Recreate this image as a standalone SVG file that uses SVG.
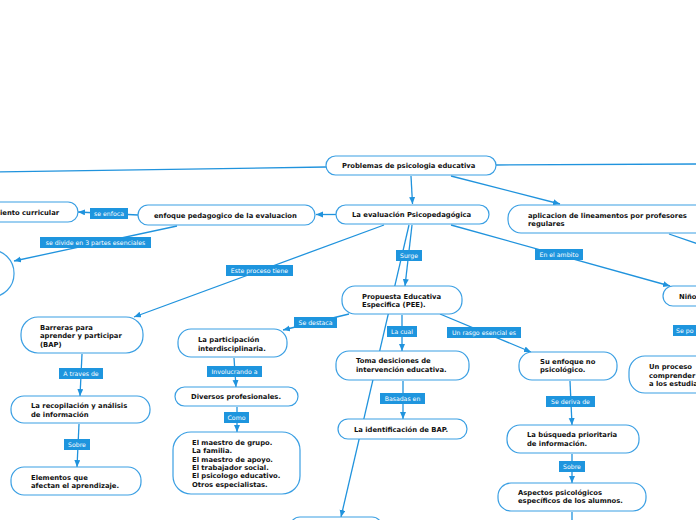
<svg xmlns="http://www.w3.org/2000/svg" width="696" height="520" viewBox="0 0 696 520">
<defs>
<marker id="ah" markerUnits="userSpaceOnUse" markerWidth="8" markerHeight="7" refX="7" refY="3" orient="auto"><path d="M0,0 L7,3 L0,6 z" fill="#2093dd"/></marker>
<style>
.n rect{fill:#fff;stroke:#3a9fe3;stroke-width:1.2}
.t{font-family:"DejaVu Sans",Verdana,sans-serif;font-weight:bold;font-size:6.8px;fill:#111}
.l rect{fill:#1e95de}
.lt{font-family:"DejaVu Sans",Verdana,sans-serif;font-size:6.2px;fill:#fff;text-anchor:middle}
#connectors path{stroke:#2093dd;stroke-width:1.3;fill:none}
#connectors path.a{marker-end:url(#ah)}
</style>
</defs>
<rect width="696" height="520" fill="#fff"/>
<g id="connectors">
<path d="M326,167 L-2,172"/>
<path d="M496,165 L698,164"/>
<path class="a" d="M411,176 L412.5,204"/>
<path class="a" d="M451,176 L560,204"/>
<path class="a" d="M336,214.5 L316,214.5"/>
<path class="a" d="M138,215 L78,212"/>
<path class="a" d="M177,226 L14,261"/>
<path class="a" d="M384,225 L134,317"/>
<path class="a" d="M412,225 L405,286"/>
<path class="a" d="M409,225 L341,517"/>
<path class="a" d="M451,225 L670,286"/>
<path d="M669,234 L698,244"/>
<path class="a" d="M349,314 L283,330"/>
<path class="a" d="M402,315 L402,351"/>
<path class="a" d="M440,314 L531,352"/>
<path class="a" d="M82,354 L80,396"/>
<path class="a" d="M79,424 L77,467"/>
<path class="a" d="M234,358 L236,387"/>
<path class="a" d="M237,407 L237,432"/>
<path class="a" d="M403,381 L403,419"/>
<path class="a" d="M570,381 L572,425"/>
<path class="a" d="M572,454 L572,483"/>
<path d="M572,512 L572,522"/>
</g>
<g id="labels">
<g class="l"><rect x="90" y="208" width="38" height="11"/><text class="lt" x="109" y="216">se enfoca</text></g>
<g class="l"><rect x="40" y="237" width="111" height="11"/><text class="lt" x="95.5" y="245">se divide en 3 partes esenciales</text></g>
<g class="l"><rect x="226" y="265" width="67" height="11"/><text class="lt" x="259.5" y="273">Este proceso tiene</text></g>
<g class="l"><rect x="396" y="250" width="26" height="11"/><text class="lt" x="409" y="258">Surge</text></g>
<g class="l"><rect x="535" y="249" width="48" height="11"/><text class="lt" x="559" y="257">En el ambito</text></g>
<g class="l"><rect x="294" y="317" width="43" height="11"/><text class="lt" x="315.5" y="325">Se destaca</text></g>
<g class="l"><rect x="387" y="326" width="30" height="11"/><text class="lt" x="402" y="334">La cual</text></g>
<g class="l"><rect x="447" y="327" width="74" height="11"/><text class="lt" x="484" y="335">Un rasgo esencial es</text></g>
<g class="l"><rect x="673" y="325" width="40" height="11"/><text class="lt" x="676" y="333" style="text-anchor:start">Se po</text></g>
<g class="l"><rect x="59" y="368" width="44" height="11"/><text class="lt" x="81" y="376">A traves de</text></g>
<g class="l"><rect x="64" y="439" width="26" height="11"/><text class="lt" x="77" y="447">Sobre</text></g>
<g class="l"><rect x="207" y="366" width="55" height="11"/><text class="lt" x="234.5" y="374">Involucrando a</text></g>
<g class="l"><rect x="224" y="412" width="25" height="11"/><text class="lt" x="236.5" y="420">Como</text></g>
<g class="l"><rect x="380" y="393" width="45" height="11"/><text class="lt" x="402.5" y="401">Basadas en</text></g>
<g class="l"><rect x="546" y="396" width="49" height="11"/><text class="lt" x="570.5" y="404">Se deriva de</text></g>
<g class="l"><rect x="559" y="461" width="26" height="11"/><text class="lt" x="572" y="469">Sobre</text></g>
</g>
<g id="n-problemas" class="n"><rect x="326" y="156" width="170" height="19" rx="9.5"/><text class="t" x="342" y="168">Problemas de psicologia educativa</text></g>
<g id="n-evaluacion" class="n"><rect x="336" y="205" width="153" height="19" rx="9.5"/><text class="t" x="352" y="217">La evaluación Psicopedagógica</text></g>
<g id="n-enfoque" class="n"><rect x="138" y="205" width="177" height="20" rx="10"/><text class="t" x="154" y="218">enfoque pedagogico de la evaluacion</text></g>
<g id="n-curricular" class="n"><rect x="-20" y="202" width="98" height="20" rx="10"/><text class="t" x="0" y="214.5">iento curricular</text></g>
<g id="n-circulo" class="n"><rect x="-40" y="250" width="54" height="47" rx="23"/></g>
<g id="n-aplicacion" class="n"><rect x="508" y="205" width="210" height="28" rx="13"/><text class="t"><tspan x="528" y="217.5">aplicacion de lineamentos por profesores</tspan><tspan x="528" y="225.5">regulares</tspan></text></g>
<g id="n-nino" class="n"><rect x="663" y="286" width="60" height="20" rx="10"/><text class="t" x="679" y="299">Niño</text></g>
<g id="n-proceso" class="n"><rect x="629" y="356" width="90" height="37" rx="16"/><text class="t"><tspan x="649" y="369">Un proceso</tspan><tspan x="649" y="377.5">comprender</tspan><tspan x="649" y="386">a los estudia</tspan></text></g>
<g id="n-barreras" class="n"><rect x="21" y="317" width="122" height="36" rx="17"/><text class="t"><tspan x="40" y="329.5">Barreras para</tspan><tspan x="40" y="338">aprender y participar</tspan><tspan x="40" y="346.5">(BAP)</tspan></text></g>
<g id="n-recopilacion" class="n"><rect x="11" y="396" width="139" height="27" rx="13"/><text class="t"><tspan x="31" y="407.5">La recopilación y análisis</tspan><tspan x="31" y="416.5">de información</tspan></text></g>
<g id="n-elementos" class="n"><rect x="11" y="467" width="130" height="28" rx="13"/><text class="t"><tspan x="31" y="479.5">Elementos que</tspan><tspan x="31" y="487.5">afectan el aprendizaje.</tspan></text></g>
<g id="n-participacion" class="n"><rect x="178" y="329" width="109" height="28" rx="13"/><text class="t"><tspan x="198" y="341.5">La participación</tspan><tspan x="198" y="350.5">interdisciplinaria.</tspan></text></g>
<g id="n-diversos" class="n"><rect x="175" y="387" width="123" height="19" rx="9.5"/><text class="t" x="191" y="399">Diversos profesionales.</text></g>
<g id="n-maestro" class="n"><rect x="173" y="432" width="127" height="62" rx="18"/><text class="t"><tspan x="192" y="445">El maestro de grupo.</tspan><tspan x="192" y="453.3">La familia.</tspan><tspan x="192" y="461.6">El maestro de apoyo.</tspan><tspan x="192" y="469.9">El trabajador social.</tspan><tspan x="192" y="478.2">El psicologo educativo.</tspan><tspan x="192" y="486.5">Otros especialistas.</tspan></text></g>
<g id="n-pee" class="n"><rect x="342" y="286" width="120" height="28" rx="13"/><text class="t"><tspan x="362" y="298.5">Propuesta Educativa</tspan><tspan x="362" y="307">Especifica (PEE).</tspan></text></g>
<g id="n-toma" class="n"><rect x="336" y="351" width="133" height="29" rx="13"/><text class="t"><tspan x="356" y="363.2">Toma desiciones de</tspan><tspan x="356" y="371.5">intervención educativa.</tspan></text></g>
<g id="n-identificacion" class="n"><rect x="338" y="419" width="129" height="20" rx="10"/><text class="t" x="354" y="431.6">La identificación de BAP.</text></g>
<g id="n-abajo" class="n"><rect x="290" y="517" width="92" height="20" rx="10"/></g>
<g id="n-suenfoque" class="n"><rect x="519" y="352" width="98" height="28" rx="13"/><text class="t"><tspan x="540" y="364.3">Su enfoque no</tspan><tspan x="540" y="372.3">psicológico.</tspan></text></g>
<g id="n-busqueda" class="n"><rect x="507" y="425" width="132" height="28" rx="13"/><text class="t"><tspan x="527" y="437">La búsqueda prioritaria</tspan><tspan x="527" y="445.6">de información.</tspan></text></g>
<g id="n-aspectos" class="n"><rect x="498" y="483" width="148" height="28" rx="13"/><text class="t"><tspan x="518" y="495">Aspectos psicológicos</tspan><tspan x="518" y="503">específicos de los alumnos.</tspan></text></g>
</svg>
